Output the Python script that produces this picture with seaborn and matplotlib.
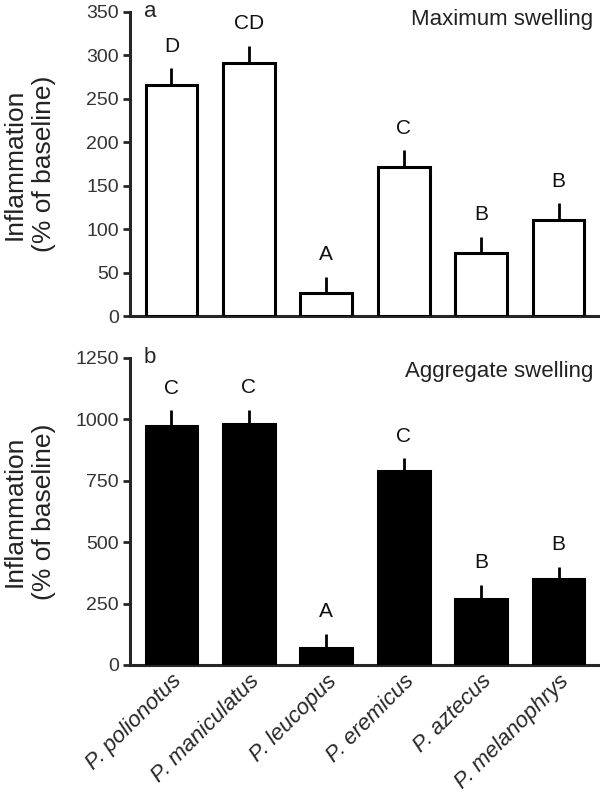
import matplotlib
matplotlib.use("Agg")
import matplotlib.pyplot as plt
import numpy as np
import pandas as pd
import seaborn as sns

# ------------------------------------------------------------------------------
# Data
# ------------------------------------------------------------------------------
species = ["P. polionotus", "P. maniculatus", "P. leucopus",
           "P. eremicus", "P. aztecus", "P. melanophrys"]

max_swelling = [266, 291, 26, 172, 72, 111]
max_swelling_err = [19, 20, 19, 19, 19, 19]
max_letters = ["D", "CD", "A", "C", "B", "B"]

agg_swelling = [975, 980, 70, 790, 270, 350]
agg_swelling_err = [62, 60, 57, 52, 57, 50]
agg_letters = ["C", "C", "A", "C", "B", "B"]

# ------------------------------------------------------------------------------
# Style
# ------------------------------------------------------------------------------
sns.set_theme(style="ticks")
plt.rcParams["font.family"] = ["Liberation Sans", "DejaVu Sans"]
plt.rcParams["axes.linewidth"] = 2.2

fig = plt.figure(figsize=(6.0, 7.96), dpi=100)
ax_top = fig.add_axes([0.2167, 0.603, 0.78, 0.382])
ax_bot = fig.add_axes([0.2167, 0.1646, 0.78, 0.3857])


def draw_panel(ax, values, errs, letters, face, ymax, step, tag, title, title_y):
    df = pd.DataFrame({"species": species, "value": values})
    sns.barplot(data=df, x="species", y="value", order=species, ax=ax,
                color=face, edgecolor="black", linewidth=2.2, width=0.67,
                saturation=1, errorbar=None, zorder=3)
    xs = np.arange(len(species))
    ax.errorbar(xs, values, yerr=[np.zeros(len(values)), errs], fmt="none",
                ecolor="black", elinewidth=2, capsize=0, zorder=2)
    for x, v, e, lab in zip(xs, values, errs, letters):
        ax.annotate(lab, (x, v + e), xytext=(0, 9), textcoords="offset points",
                    ha="center", va="bottom", fontsize=15, color="#111111")

    ax.set_xlim(-0.535, 5.51)
    ax.set_ylim(0, ymax)
    ax.set_yticks(np.arange(0, ymax + 1, step))
    ax.tick_params(axis="y", length=5, width=2, labelsize=14,
                   labelcolor="#333333", pad=3)
    ax.tick_params(axis="x", length=0, pad=4)
    sns.despine(ax=ax)
    ax.set_xlabel("")
    ax.set_ylabel("Inflammation\n(% of baseline)", fontsize=19,
                  linespacing=1.3, color="#222222")
    ax.yaxis.set_label_coords(-0.158, 0.5)

    ax.text(0.043, 1.0, tag, transform=ax.transAxes, ha="center",
            va="center", fontsize=16)
    ax.text(0.99, title_y, title, transform=ax.transAxes, ha="right",
            va="center", fontsize=16, color="#222222")


draw_panel(ax_top, max_swelling, max_swelling_err, max_letters, "white",
           350, 50, "a", "Maximum swelling", 0.975)
draw_panel(ax_bot, agg_swelling, agg_swelling_err, agg_letters, "black",
           1250, 250, "b", "Aggregate swelling", 0.955)

ax_top.set_xticklabels([])
ax_bot.set_xticks(range(len(species)))
ax_bot.set_xticklabels(species, rotation=45, ha="right",
                       rotation_mode="anchor", fontsize=16, style="italic")

fig.savefig("out.png", dpi=100)
plt.close(fig)
